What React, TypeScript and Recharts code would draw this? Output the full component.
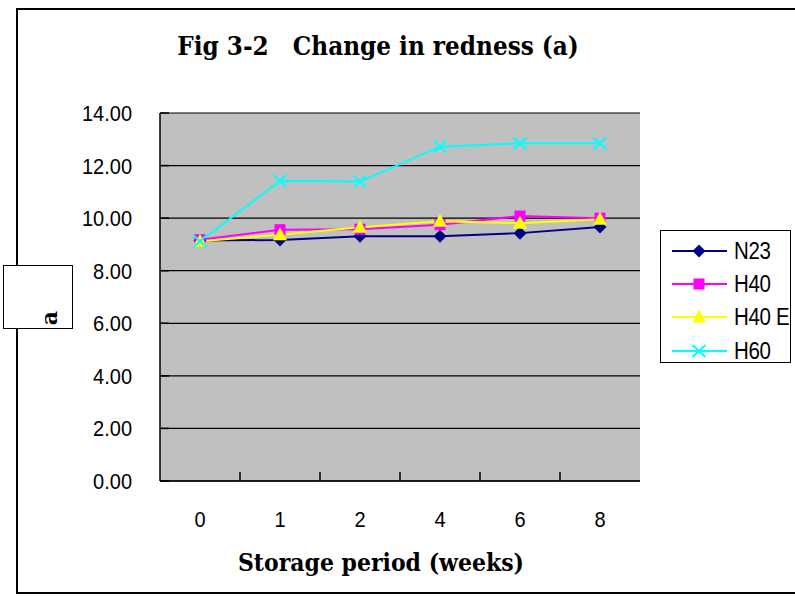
import { CartesianGrid, Line, LineChart, XAxis, YAxis } from 'recharts';

const weeks = ['0', '1', '2', '4', '6', '8'];
const n23 = [9.15, 9.17, 9.31, 9.31, 9.43, 9.66];
const h40 = [9.18, 9.56, 9.58, 9.75, 10.08, 10.0];
const h40e = [9.12, 9.37, 9.65, 9.88, 9.81, 9.96];
const h60 = [9.12, 11.42, 11.39, 12.72, 12.85, 12.85];
const yTicks = [0, 2, 4, 6, 8, 10, 12, 14];

const series = [
  { key: 'N23', name: 'N23', color: '#000080', shape: 'diamond' },
  { key: 'H40', name: 'H40', color: '#FF00FF', shape: 'square' },
  { key: 'H40E', name: 'H40 E', color: '#FFFF00', shape: 'triangle' },
  { key: 'H60', name: 'H60', color: '#00FFFF', shape: 'cross' },
];

const data = weeks.map((w, i) => ({
  week: w,
  N23: n23[i],
  H40: h40[i],
  H40E: h40e[i],
  H60: h60[i],
}));

const sans = '"Liberation Sans", Arial, sans-serif';
const serif = '"DejaVu Serif", "Liberation Serif", serif';

function Marker({ shape, color, cx, cy }: { shape: string; color: string; cx: number; cy: number }) {
  if (shape === 'diamond') {
    return <polygon points={`${cx},${cy - 6.5} ${cx + 6.5},${cy} ${cx},${cy + 6.5} ${cx - 6.5},${cy}`} fill={color} />;
  }
  if (shape === 'square') {
    return <rect x={cx - 5.5} y={cy - 5.5} width={11} height={11} fill={color} />;
  }
  if (shape === 'triangle') {
    return <polygon points={`${cx},${cy - 7.5} ${cx + 7},${cy + 5.5} ${cx - 7},${cy + 5.5}`} fill={color} />;
  }
  return (
    <g stroke={color} strokeWidth={2}>
      <line x1={cx - 6.5} y1={cy - 6} x2={cx + 6.5} y2={cy + 6} />
      <line x1={cx - 6.5} y1={cy + 6} x2={cx + 6.5} y2={cy - 6} />
    </g>
  );
}

const makeDot = (shape: string, color: string) => (props: any) => {
  const { cx, cy, index } = props;
  if (cx == null || cy == null) return <g key={index} />;
  return <Marker key={index} shape={shape} color={color} cx={cx} cy={cy} />;
};

function YTick(props: any) {
  const { x, y, payload } = props;
  const left = x + 28;
  return (
    <g>
      <line x1={left} y1={y} x2={left + 9} y2={y} stroke="#000" strokeWidth={1.5} />
      <text
        transform={`translate(${x},${y + 8}) scale(1,1.1)`}
        textAnchor="end"
        fontFamily={sans}
        fontSize={20}
        fill="#000"
      >
        {Number(payload.value).toFixed(2)}
      </text>
    </g>
  );
}

function XTick(props: any) {
  const { x, y, payload, index } = props;
  return (
    <g>
      {index > 0 && (
        <line x1={x - 40} y1={y - 9} x2={x - 40} y2={y} stroke="#000" strokeWidth={1.5} />
      )}
      <text
        transform={`translate(${x},${y + 46}) scale(1,1.1)`}
        textAnchor="middle"
        fontFamily={sans}
        fontSize={20}
        fill="#000"
      >
        {payload.value}
      </text>
    </g>
  );
}

function LegendBox() {
  return (
    <div
      style={{
        position: 'absolute',
        left: 660,
        top: 230,
        width: 131,
        height: 133,
        boxSizing: 'border-box',
        border: '1.5px solid #000',
        background: '#fff',
        paddingTop: 3,
      }}
    >
      {series.map((s) => (
        <div key={s.key} style={{ height: 33.3, display: 'flex', alignItems: 'center', whiteSpace: 'nowrap' }}>
          <svg width={70} height={20} style={{ marginLeft: 3, flexShrink: 0 }}>
            <line x1={8} y1={10} x2={63} y2={10} stroke={s.color} strokeWidth={2} />
            <Marker shape={s.shape} color={s.color} cx={35} cy={10} />
          </svg>
          <span
            style={{
              display: 'inline-block',
              fontFamily: sans,
              fontSize: 20.5,
              color: '#000',
              lineHeight: '20px',
              transform: 'scaleY(1.15)',
              letterSpacing: -0.3,
            }}
          >
            {s.name}
          </span>
        </div>
      ))}
    </div>
  );
}

export default function App() {
  return (
    <div style={{ position: 'absolute', left: 0, top: 0, width: 795, height: 596, background: '#fff', overflow: 'hidden' }}>
      <div
        style={{
          position: 'absolute',
          left: 16,
          top: 8,
          width: 800,
          height: 586,
          boxSizing: 'border-box',
          borderLeft: '2px solid #000',
          borderTop: '2px solid #000',
          borderBottom: '2px solid #000',
        }}
      />
      <LineChart width={795} height={596} data={data} margin={{ top: 113, right: 155, bottom: 75, left: 0 }}>
        <CartesianGrid vertical={false} fill="#C0C0C0" stroke="#000" strokeWidth={1.2} />
        <XAxis
          dataKey="week"
          height={40}
          padding={{ left: 40, right: 40 }}
          axisLine={{ stroke: '#000', strokeWidth: 1.5 }}
          tickLine={false}
          tickSize={0}
          tickMargin={0}
          tick={<XTick />}
          interval={0}
        />
        <XAxis
          xAxisId="top"
          orientation="top"
          dataKey="week"
          height={0}
          tick={false}
          tickLine={false}
          axisLine={{ stroke: '#808080', strokeWidth: 1.5 }}
        />
        <YAxis
          width={160}
          domain={[0, 14]}
          ticks={yTicks}
          interval={0}
          axisLine={{ stroke: '#000', strokeWidth: 1.5 }}
          tickLine={false}
          tickSize={0}
          tickMargin={28}
          tick={<YTick />}
        />
        <YAxis
          yAxisId="right"
          orientation="right"
          width={0}
          domain={[0, 14]}
          tick={false}
          tickLine={false}
          axisLine={{ stroke: '#808080', strokeWidth: 1.5 }}
        />
        {series.map((s) => (
          <Line
            key={s.key}
            dataKey={s.key}
            name={s.name}
            stroke={s.color}
            strokeWidth={2}
            dot={makeDot(s.shape, s.color)}
            activeDot={false}
            isAnimationActive={false}
          />
        ))}
      </LineChart>
      <LegendBox />
      <div
        style={{
          position: 'absolute',
          left: 378,
          top: 32,
          transform: 'translateX(-50%) scaleY(1.1)',
          whiteSpace: 'pre',
          fontFamily: serif,
          fontWeight: 'bold',
          fontSize: 23.2,
          lineHeight: '28px',
          color: '#000',
        }}
      >
        {'Fig 3-2   Change in redness (a)'}
      </div>
      <div
        style={{
          position: 'absolute',
          left: 381,
          top: 549,
          transform: 'translateX(-50%) scaleY(1.08)',
          whiteSpace: 'pre',
          fontFamily: serif,
          fontWeight: 'bold',
          fontSize: 22,
          lineHeight: '26px',
          color: '#000',
        }}
      >
        Storage period (weeks)
      </div>
      <div
        style={{
          position: 'absolute',
          left: 3,
          top: 265,
          width: 70,
          height: 64,
          boxSizing: 'border-box',
          border: '1.5px solid #000',
          background: '#fff',
        }}
      >
        <div
          style={{
            position: 'absolute',
            left: 45,
            top: 52,
            transform: 'translate(-50%, -50%) rotate(-90deg)',
            fontFamily: serif,
            fontWeight: 'bold',
            fontSize: 22,
            lineHeight: '22px',
            color: '#000',
          }}
        >
          a
        </div>
      </div>
    </div>
  );
}
